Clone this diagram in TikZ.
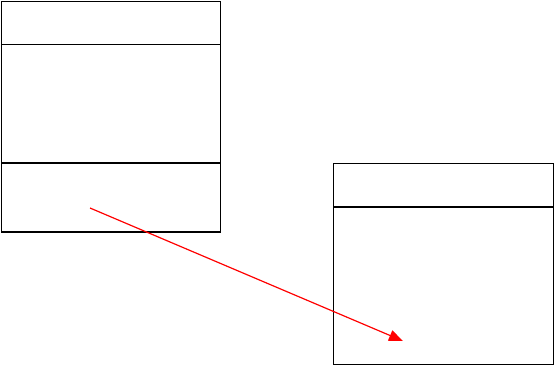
\documentclass[tikz,border=0pt]{standalone}
\usetikzlibrary{arrows.meta}

\begin{document}
\begin{tikzpicture}[x=1pt, y=-1pt]
    \tikzstyle{part}=[draw, rectangle, line width=1.6pt, inner sep=0pt, outer sep=0pt]
    \tikzstyle{link}=[draw=red, line width=1.2pt, -{Triangle[length=14pt, width=11pt]}]

    \useasboundingbox (0,0) rectangle (558,369);

    % Left box with three compartments
    \node[part, minimum width=219pt, minimum height=43pt] (lhead) at (111, 23) {};
    \node[part, minimum width=219pt, minimum height=118.5pt] (lbody) at (111, 103.75) {};
    \node[part, minimum width=219pt, minimum height=69pt] (lfoot) at (111, 197.5) {};

    % Right box with two compartments
    \node[part, minimum width=220pt, minimum height=43.5pt] (rhead) at (443.5, 185.25) {};
    \node[part, minimum width=220pt, minimum height=157.5pt] (rbody) at (443.5, 285.75) {};

    % Link between the boxes
    \coordinate (from) at (90, 208);
    \coordinate (to) at (403, 341);
    \path[link] (from) -- (to);
\end{tikzpicture}
\end{document}
